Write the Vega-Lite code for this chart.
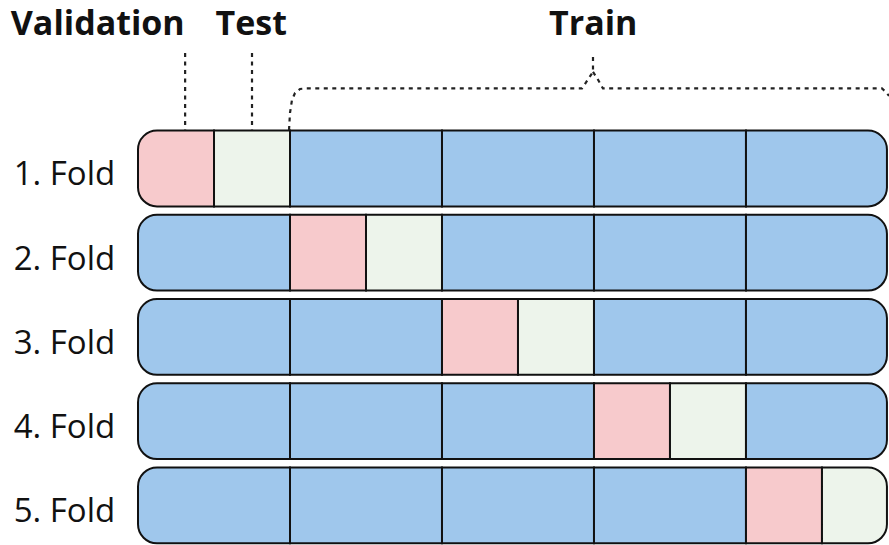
{
  "$schema": "https://vega.github.io/schema/vega-lite/v6.json",
  "width": 889,
  "height": 545,
  "autosize": {"type": "none"},
  "padding": 0,
  "background": "white",
  "config": {"view": {"stroke": null}},
  "datasets": {
    "cells": [
      {"fold": 1, "start": 0, "end": 1, "type": "Validation", "pos": "L"},
      {"fold": 1, "start": 1, "end": 2, "type": "Test", "pos": "M"},
      {"fold": 1, "start": 2, "end": 4, "type": "Train", "pos": "M"},
      {"fold": 1, "start": 4, "end": 6, "type": "Train", "pos": "M"},
      {"fold": 1, "start": 6, "end": 8, "type": "Train", "pos": "M"},
      {"fold": 1, "start": 8, "end": 9.855, "type": "Train", "pos": "R"},
      {"fold": 2, "start": 0, "end": 2, "type": "Train", "pos": "L"},
      {"fold": 2, "start": 2, "end": 3, "type": "Validation", "pos": "M"},
      {"fold": 2, "start": 3, "end": 4, "type": "Test", "pos": "M"},
      {"fold": 2, "start": 4, "end": 6, "type": "Train", "pos": "M"},
      {"fold": 2, "start": 6, "end": 8, "type": "Train", "pos": "M"},
      {"fold": 2, "start": 8, "end": 9.855, "type": "Train", "pos": "R"},
      {"fold": 3, "start": 0, "end": 2, "type": "Train", "pos": "L"},
      {"fold": 3, "start": 2, "end": 4, "type": "Train", "pos": "M"},
      {"fold": 3, "start": 4, "end": 5, "type": "Validation", "pos": "M"},
      {"fold": 3, "start": 5, "end": 6, "type": "Test", "pos": "M"},
      {"fold": 3, "start": 6, "end": 8, "type": "Train", "pos": "M"},
      {"fold": 3, "start": 8, "end": 9.855, "type": "Train", "pos": "R"},
      {"fold": 4, "start": 0, "end": 2, "type": "Train", "pos": "L"},
      {"fold": 4, "start": 2, "end": 4, "type": "Train", "pos": "M"},
      {"fold": 4, "start": 4, "end": 6, "type": "Train", "pos": "M"},
      {"fold": 4, "start": 6, "end": 7, "type": "Validation", "pos": "M"},
      {"fold": 4, "start": 7, "end": 8, "type": "Test", "pos": "M"},
      {"fold": 4, "start": 8, "end": 9.855, "type": "Train", "pos": "R"},
      {"fold": 5, "start": 0, "end": 2, "type": "Train", "pos": "L"},
      {"fold": 5, "start": 2, "end": 4, "type": "Train", "pos": "M"},
      {"fold": 5, "start": 4, "end": 6, "type": "Train", "pos": "M"},
      {"fold": 5, "start": 6, "end": 8, "type": "Train", "pos": "M"},
      {"fold": 5, "start": 8, "end": 9, "type": "Validation", "pos": "M"},
      {"fold": 5, "start": 9, "end": 9.855, "type": "Test", "pos": "R"}
    ],
    "folds": [
      {"fold": 1, "label": "1. Fold"},
      {"fold": 2, "label": "2. Fold"},
      {"fold": 3, "label": "3. Fold"},
      {"fold": 4, "label": "4. Fold"},
      {"fold": 5, "label": "5. Fold"}
    ],
    "titles": [
      {"label": "Validation", "x": -0.53, "y": -0.585},
      {"label": "Test", "x": 1.49, "y": -0.585},
      {"label": "Train", "x": 5.99, "y": -0.585}
    ],
    "leaders": [
      {"x": 0.62, "top": -0.371, "bottom": 0.543},
      {"x": 1.5, "top": -0.371, "bottom": 0.543}
    ],
    "brace": [
      {"seg": "A", "order": 1, "x": 1.987, "y": 0.543},
      {"seg": "A", "order": 2, "x": 2.0, "y": 0.341},
      {"seg": "A", "order": 3, "x": 2.026, "y": 0.187},
      {"seg": "A", "order": 4, "x": 2.066, "y": 0.104},
      {"seg": "A", "order": 5, "x": 2.132, "y": 0.056},
      {"seg": "A", "order": 6, "x": 2.197, "y": 0.05},
      {"seg": "A", "order": 7, "x": 5.842, "y": 0.05},
      {"seg": "A", "order": 8, "x": 5.934, "y": -0.074},
      {"seg": "A", "order": 9, "x": 5.987, "y": -0.146},
      {"seg": "A", "order": 10, "x": 5.987, "y": -0.371},
      {"seg": "B", "order": 1, "x": 5.987, "y": -0.146},
      {"seg": "B", "order": 2, "x": 6.04, "y": -0.074},
      {"seg": "B", "order": 3, "x": 6.118, "y": 0.05},
      {"seg": "B", "order": 4, "x": 9.789, "y": 0.05},
      {"seg": "B", "order": 5, "x": 9.842, "y": 0.092},
      {"seg": "B", "order": 6, "x": 9.882, "y": 0.139}
    ]
  },
  "layer": [
    {
      "data": {"name": "cells"},
      "transform": [
        {"filter": "datum.pos === 'M'"},
        {"calculate": "datum.fold - 0.45", "as": "lo"},
        {"calculate": "datum.fold + 0.45", "as": "hi"}
      ],
      "mark": {"type": "rect", "stroke": "#111111", "strokeWidth": 2},
      "encoding": {
        "x": {"field": "start", "type": "quantitative", "scale": {"domain": [-1.816, 9.882], "nice": false, "zero": false}, "axis": null},
        "x2": {"field": "end"},
        "y": {"field": "lo", "type": "quantitative", "scale": {"domain": [-1, 5.47], "nice": false, "zero": false, "reverse": true}, "axis": null},
        "y2": {"field": "hi"},
        "fill": {"field": "type", "type": "nominal", "scale": {"domain": ["Validation", "Test", "Train"], "range": ["#F7CACC", "#EDF4EB", "#9FC7EC"]}, "legend": null}
      }
    },
    {
      "data": {"name": "cells"},
      "transform": [
        {"filter": "datum.pos === 'L'"},
        {"calculate": "datum.fold - 0.45", "as": "lo"},
        {"calculate": "datum.fold + 0.45", "as": "hi"}
      ],
      "mark": {"type": "rect", "stroke": "#111111", "strokeWidth": 2, "cornerRadiusTopLeft": 19, "cornerRadiusBottomLeft": 19},
      "encoding": {
        "x": {"field": "start", "type": "quantitative"},
        "x2": {"field": "end"},
        "y": {"field": "lo", "type": "quantitative"},
        "y2": {"field": "hi"},
        "fill": {"field": "type", "type": "nominal", "legend": null}
      }
    },
    {
      "data": {"name": "cells"},
      "transform": [
        {"filter": "datum.pos === 'R'"},
        {"calculate": "datum.fold - 0.45", "as": "lo"},
        {"calculate": "datum.fold + 0.45", "as": "hi"}
      ],
      "mark": {"type": "rect", "stroke": "#111111", "strokeWidth": 2, "cornerRadiusTopRight": 19, "cornerRadiusBottomRight": 19},
      "encoding": {
        "x": {"field": "start", "type": "quantitative"},
        "x2": {"field": "end"},
        "y": {"field": "lo", "type": "quantitative"},
        "y2": {"field": "hi"},
        "fill": {"field": "type", "type": "nominal", "legend": null}
      }
    },
    {
      "data": {"name": "leaders"},
      "mark": {"type": "rule", "stroke": "#222222", "strokeWidth": 2.2, "strokeDash": [4, 4.5]},
      "encoding": {
        "x": {"field": "x", "type": "quantitative"},
        "y": {"field": "top", "type": "quantitative"},
        "y2": {"field": "bottom"}
      }
    },
    {
      "data": {"name": "brace"},
      "mark": {"type": "line", "stroke": "#222222", "strokeWidth": 2.2, "strokeDash": [4, 4.5]},
      "encoding": {
        "x": {"field": "x", "type": "quantitative"},
        "y": {"field": "y", "type": "quantitative"},
        "detail": {"field": "seg", "type": "nominal"},
        "order": {"field": "order", "type": "quantitative"}
      }
    },
    {
      "data": {"name": "folds"},
      "mark": {"type": "text", "align": "right", "baseline": "alphabetic", "dy": 17, "font": "Open Sans", "fontSize": 33, "color": "#111111"},
      "encoding": {
        "x": {"datum": -0.3, "type": "quantitative"},
        "y": {"field": "fold", "type": "quantitative"},
        "text": {"field": "label"}
      }
    },
    {
      "data": {"name": "titles"},
      "mark": {"type": "text", "align": "center", "baseline": "alphabetic", "font": "Open Sans", "fontWeight": "bold", "fontSize": 34, "color": "#111111"},
      "encoding": {
        "x": {"field": "x", "type": "quantitative"},
        "y": {"field": "y", "type": "quantitative"},
        "text": {"field": "label"}
      }
    }
  ]
}
